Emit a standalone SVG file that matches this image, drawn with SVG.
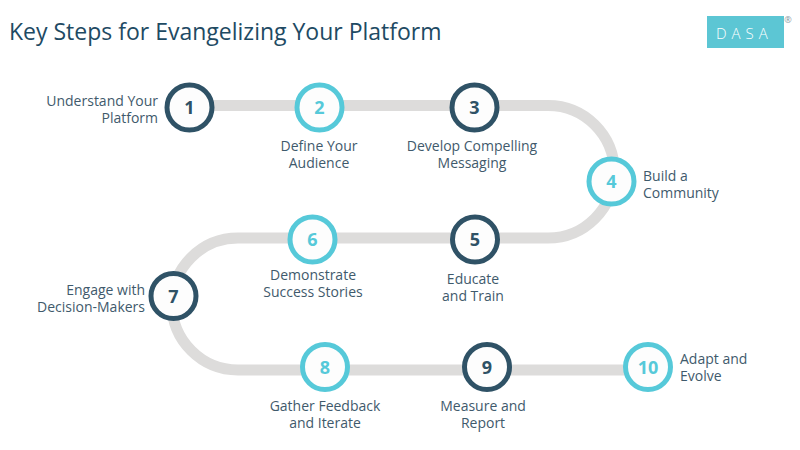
<svg xmlns="http://www.w3.org/2000/svg" width="800" height="450" viewBox="0 0 800 450">
<style>
.l{font:14px "Open Sans",sans-serif;fill:#3f5a6c}
.m{text-anchor:middle}
.e{text-anchor:end}
.n{font:700 18px "Open Sans",sans-serif;text-anchor:middle}
.d circle{fill:#fdfdfd;stroke:#2f5266;stroke-width:5}
.d .n{fill:#2f5266}
.t circle{fill:#fdfdfd;stroke:#56c9d9;stroke-width:5}
.t .n{fill:#56c9d9}
</style>
<rect width="800" height="450" fill="#fff"/>
<text x="9" y="40" style="font:23px 'Open Sans',sans-serif;fill:#1e4a63">Key Steps for Evangelizing Your Platform</text>
<g id="logo">
<rect x="707" y="16" width="77" height="32" fill="#5cc6d4"/>
<text x="716" y="39" style="font:300 15px 'Open Sans',sans-serif;letter-spacing:5px;fill:#fff">DASA</text>
<text x="788" y="23" text-anchor="middle" style="font:9px 'Open Sans',sans-serif;fill:#8a9aa5">®</text>
</g>
<g id="connectors">
<path d="M189 105.500H548A66.250 66.250 0 0 1 548 238H238A66 66 0 0 0 238 370H648" fill="none" stroke="#dddcdb" stroke-width="11"/>
</g>
<g id="n1" class="d"><circle cx="189.500" cy="107.500" r="22.500"/><text class="n" x="189.500" y="114">1</text><text class="l e"><tspan x="158" y="106">Understand Your</tspan><tspan x="158" y="123">Platform</tspan></text></g>
<g id="n2" class="t"><circle cx="319.500" cy="107.500" r="22.500"/><text class="n" x="319.500" y="114">2</text><text class="l m"><tspan x="319" y="151">Define Your</tspan><tspan x="319" y="168">Audience</tspan></text></g>
<g id="n3" class="d"><circle cx="474.500" cy="107.500" r="22.500"/><text class="n" x="474.500" y="114">3</text><text class="l m"><tspan x="472" y="151">Develop Compelling</tspan><tspan x="472" y="168">Messaging</tspan></text></g>
<g id="n4" class="t"><circle cx="611.500" cy="181.500" r="22.500"/><text class="n" x="611.500" y="188">4</text><text class="l"><tspan x="643" y="181">Build a</tspan><tspan x="643" y="198">Community</tspan></text></g>
<g id="n5" class="d"><circle cx="475" cy="239.500" r="22.500"/><text class="n" x="475" y="246">5</text><text class="l m"><tspan x="473" y="284">Educate</tspan><tspan x="473" y="301">and Train</tspan></text></g>
<g id="n6" class="t"><circle cx="312.500" cy="239.500" r="22.500"/><text class="n" x="312.500" y="246">6</text><text class="l m"><tspan x="313" y="280">Demonstrate</tspan><tspan x="313" y="297">Success Stories</tspan></text></g>
<g id="n7" class="d"><circle cx="173.500" cy="296" r="22.500"/><text class="n" x="173.500" y="302.500">7</text><text class="l e"><tspan x="145" y="295">Engage with</tspan><tspan x="145" y="312">Decision-Makers</tspan></text></g>
<g id="n8" class="t"><circle cx="325" cy="367" r="22.500"/><text class="n" x="325" y="373.500">8</text><text class="l m"><tspan x="325" y="411">Gather Feedback</tspan><tspan x="325" y="428">and Iterate</tspan></text></g>
<g id="n9" class="d"><circle cx="487" cy="367" r="22.500"/><text class="n" x="487" y="373.500">9</text><text class="l m"><tspan x="483" y="411">Measure and</tspan><tspan x="483" y="428">Report</tspan></text></g>
<g id="n10" class="t"><circle cx="648" cy="367" r="22.500"/><text class="n" x="648" y="373.500">10</text><text class="l"><tspan x="680" y="364">Adapt and</tspan><tspan x="680" y="381">Evolve</tspan></text></g>
</svg>
